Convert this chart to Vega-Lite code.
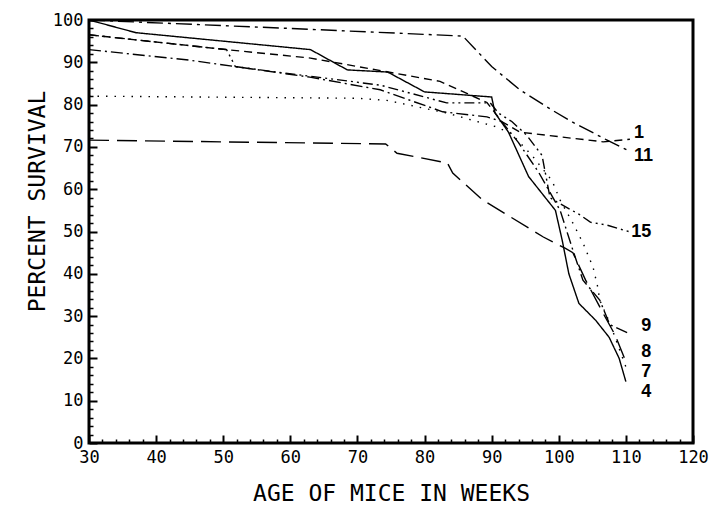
{
  "$schema": "https://vega.github.io/schema/vega-lite/v6.json",
  "width": 604,
  "height": 423,
  "autosize": "none",
  "padding": {"left": 89, "top": 20, "right": 17, "bottom": 65},
  "background": "white",
  "config": {
    "view": {"stroke": "black", "strokeWidth": 3},
    "axis": {
      "grid": false,
      "domain": false,
      "labelFont": "DejaVu Sans Mono",
      "labelFontSize": 17,
      "labelColor": "black",
      "labelFlush": false,
      "labelOverlap": false,
      "titleFont": "DejaVu Sans Mono",
      "titleFontSize": 23,
      "titleFontWeight": "normal",
      "titleColor": "black"
    }
  },
  "datasets": {
    "curves": [
      {"c": "4", "w": 30, "s": 100}, {"c": "4", "w": 37, "s": 97}, {"c": "4", "w": 63, "s": 93}, {"c": "4", "w": 68.5, "s": 88.2}, {"c": "4", "w": 74.5, "s": 87.7}, {"c": "4", "w": 80, "s": 83}, {"c": "4", "w": 90, "s": 81.8}, {"c": "4", "w": 90.5, "s": 78}, {"c": "4", "w": 92.5, "s": 73.5}, {"c": "4", "w": 95.5, "s": 63}, {"c": "4", "w": 99.5, "s": 55}, {"c": "4", "w": 100.5, "s": 48}, {"c": "4", "w": 101.5, "s": 40}, {"c": "4", "w": 103, "s": 33}, {"c": "4", "w": 105.5, "s": 29}, {"c": "4", "w": 107.5, "s": 25}, {"c": "4", "w": 109, "s": 20}, {"c": "4", "w": 110, "s": 14.5},
      {"c": "11", "w": 30, "s": 100}, {"c": "11", "w": 60, "s": 98}, {"c": "11", "w": 85.7, "s": 96.2}, {"c": "11", "w": 90, "s": 89}, {"c": "11", "w": 94.2, "s": 83.5}, {"c": "11", "w": 99, "s": 78.7}, {"c": "11", "w": 102, "s": 75.9}, {"c": "11", "w": 107.2, "s": 71.6}, {"c": "11", "w": 110.5, "s": 69},
      {"c": "1", "w": 30, "s": 96.5}, {"c": "1", "w": 50.5, "s": 93}, {"c": "1", "w": 63, "s": 91}, {"c": "1", "w": 82.3, "s": 85.5}, {"c": "1", "w": 89.3, "s": 80.5}, {"c": "1", "w": 91.5, "s": 76}, {"c": "1", "w": 94.2, "s": 73.5}, {"c": "1", "w": 100.6, "s": 72.3}, {"c": "1", "w": 106.6, "s": 71.2}, {"c": "1", "w": 110.6, "s": 71.8},
      {"c": "15", "w": 30, "s": 96.5}, {"c": "15", "w": 50.5, "s": 93}, {"c": "15", "w": 51.8, "s": 89}, {"c": "15", "w": 55.5, "s": 88.2}, {"c": "15", "w": 73.4, "s": 84.6}, {"c": "15", "w": 83.3, "s": 80.4}, {"c": "15", "w": 89.8, "s": 80.4}, {"c": "15", "w": 91, "s": 78}, {"c": "15", "w": 93, "s": 76}, {"c": "15", "w": 95.2, "s": 72.8}, {"c": "15", "w": 97.5, "s": 68}, {"c": "15", "w": 98.7, "s": 58}, {"c": "15", "w": 99.7, "s": 57}, {"c": "15", "w": 103.2, "s": 53.9}, {"c": "15", "w": 104.7, "s": 52.2}, {"c": "15", "w": 107.2, "s": 51.5}, {"c": "15", "w": 110.6, "s": 49.9},
      {"c": "9", "w": 30, "s": 93}, {"c": "9", "w": 45, "s": 90.5}, {"c": "9", "w": 62.9, "s": 86.5}, {"c": "9", "w": 73.4, "s": 83.5}, {"c": "9", "w": 82.7, "s": 78.3}, {"c": "9", "w": 89.3, "s": 77.1}, {"c": "9", "w": 91.5, "s": 76}, {"c": "9", "w": 94, "s": 71}, {"c": "9", "w": 97, "s": 64}, {"c": "9", "w": 100.2, "s": 55}, {"c": "9", "w": 102.1, "s": 45.6}, {"c": "9", "w": 103.6, "s": 38.5}, {"c": "9", "w": 106.1, "s": 33.8}, {"c": "9", "w": 107.6, "s": 28}, {"c": "9", "w": 110.3, "s": 26},
      {"c": "7", "w": 30, "s": 82}, {"c": "7", "w": 70, "s": 81.5}, {"c": "7", "w": 74.4, "s": 81}, {"c": "7", "w": 83.3, "s": 78}, {"c": "7", "w": 90.8, "s": 74.7}, {"c": "7", "w": 93, "s": 73}, {"c": "7", "w": 96, "s": 68}, {"c": "7", "w": 99, "s": 62}, {"c": "7", "w": 100.2, "s": 57.4}, {"c": "7", "w": 102.1, "s": 52}, {"c": "7", "w": 103.6, "s": 47.3}, {"c": "7", "w": 105.1, "s": 41.6}, {"c": "7", "w": 105.8, "s": 36.9}, {"c": "7", "w": 106.1, "s": 33.8}, {"c": "7", "w": 107.6, "s": 28.4}, {"c": "7", "w": 108.7, "s": 23.6}, {"c": "7", "w": 110, "s": 18},
      {"c": "8", "w": 30, "s": 71.6}, {"c": "8", "w": 74.2, "s": 70.7}, {"c": "8", "w": 75.9, "s": 68.5}, {"c": "8", "w": 83.4, "s": 66.2}, {"c": "8", "w": 84.2, "s": 63.8}, {"c": "8", "w": 88.7, "s": 57.4}, {"c": "8", "w": 91.2, "s": 55}, {"c": "8", "w": 97.7, "s": 48.7}, {"c": "8", "w": 101, "s": 46}, {"c": "8", "w": 102.1, "s": 45}, {"c": "8", "w": 104, "s": 38.5}, {"c": "8", "w": 106.6, "s": 30.7}, {"c": "8", "w": 108.4, "s": 25.5}, {"c": "8", "w": 109.9, "s": 19.6}
    ],
    "labels": [
      {"label": "1", "w": 111.2, "s": 73.3},
      {"label": "11", "w": 111.2, "s": 67.8},
      {"label": "15", "w": 110.8, "s": 50},
      {"label": "9", "w": 112.3, "s": 27.6},
      {"label": "8", "w": 112.3, "s": 21.5},
      {"label": "7", "w": 112.3, "s": 16.8},
      {"label": "4", "w": 112.3, "s": 12}
    ]
  },
  "resolve": {"axis": {"x": "independent", "y": "independent"}},
  "layer": [
    {
      "data": {"name": "curves"},
      "mark": {"type": "line", "color": "black", "strokeWidth": 1.4},
      "encoding": {
        "x": {
          "field": "w", "type": "quantitative",
          "scale": {"domain": [30, 120], "nice": false, "zero": false},
          "axis": {
            "orient": "bottom",
            "ticks": true,
            "tickColor": "#000000",
            "tickWidth": 2,
            "tickSize": 8,
            "tickOffset": 0,
            "offset": -8,
            "values": [30, 40, 50, 60, 70, 80, 90, 100, 110, 120],
            "labelPadding": 6,
            "labelOverlap": false,
            "title": "AGE OF MICE IN WEEKS",
            "titleY": 58,
            "titleBaseline": "middle"
          }
        },
        "y": {
          "field": "s", "type": "quantitative",
          "scale": {"domain": [0, 100], "nice": false},
          "axis": {
            "orient": "left",
            "ticks": true,
            "tickColor": "#000000",
            "tickWidth": 2,
            "tickSize": 8,
            "offset": -8,
            "values": [0, 10, 20, 30, 40, 50, 60, 70, 80, 90, 100],
            "labelPadding": 6,
            "labelOverlap": false,
            "labelBaseline": "middle",
            "title": "PERCENT SURVIVAL",
            "titleX": -60,
            "titleY": 181,
            "titleAngle": 270,
            "titleAlign": "center",
            "titleBaseline": "middle"
          }
        },
        "strokeDash": {
          "field": "c", "type": "nominal",
          "scale": {
            "domain": ["4", "11", "1", "15", "9", "7", "8"],
            "range": [[1, 0], [16, 5, 3, 5], [8, 5], [10, 4, 2, 4, 2, 4], [12, 4, 2, 4], [1.5, 7], [20, 8]]
          },
          "legend": null
        }
      }
    },
    {
      "data": {"name": "labels"},
      "mark": {"type": "text", "align": "left", "baseline": "middle", "font": "Liberation Sans", "fontWeight": "bold", "fontSize": 18, "color": "black"},
      "encoding": {
        "x": {
          "field": "w", "type": "quantitative",
          "axis": {
            "orient": "bottom",
            "ticks": true,
            "tickColor": "#000000",
            "tickWidth": 1.5,
            "tickSize": 4,
            "offset": -4,
            "values": [32,34,36,38,42,44,46,48,52,54,56,58,62,64,66,68,72,74,76,78,82,84,86,88,92,94,96,98,102,104,106,108,112,114,116,118],
            "labels": false,
            "title": null
          }
        },
        "y": {
          "field": "s", "type": "quantitative",
          "axis": {
            "orient": "left",
            "ticks": true,
            "tickColor": "#000000",
            "tickWidth": 1.5,
            "tickSize": 4,
            "offset": -4,
            "values": [2,4,6,8,12,14,16,18,22,24,26,28,32,34,36,38,42,44,46,48,52,54,56,58,62,64,66,68,72,74,76,78,82,84,86,88,92,94,96,98],
            "labels": false,
            "title": null
          }
        },
        "text": {"field": "label"}
      }
    }
  ]
}
